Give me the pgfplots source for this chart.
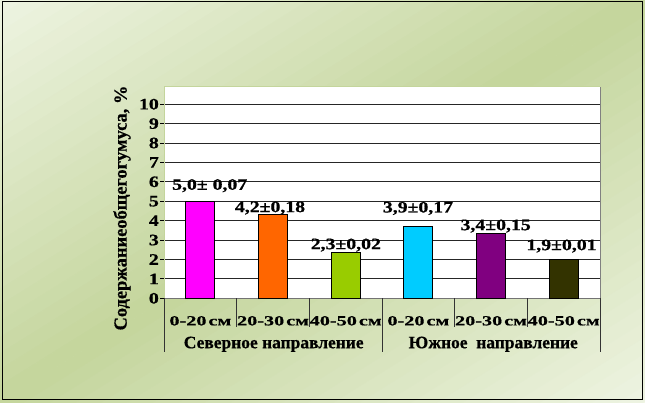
\documentclass[border=0pt]{standalone}
\usepackage{pgfplots}
\pgfplotsset{compat=1.18}
\usepackage{fontspec}
\setmainfont{Liberation Serif}
\newfontface\widebold[FakeStretch=1.24, FakeBold=0.7]{Liberation Serif Bold}
\newfontface\catbold[FakeStretch=1.45, FakeBold=0.7]{Liberation Serif Bold}
\newfontface\plainbold[FakeBold=0.6]{Liberation Serif Bold}
\definecolor{bgL}{HTML}{EEF4E2}
\definecolor{bgG}{HTML}{C4D59C}
\definecolor{c1}{HTML}{FF00FF}
\definecolor{c2}{HTML}{FF6600}
\definecolor{c3}{HTML}{99CC00}
\definecolor{c4}{HTML}{00CCFF}
\definecolor{c5}{HTML}{800080}
\definecolor{c6}{HTML}{333300}
\newcommand\tickfont{\widebold\fontsize{16}{16}\selectfont}
\newcommand\catfont{\catbold\fontsize{14}{14}\selectfont}
\newcommand\datafont{\widebold\fontsize{16}{16}\selectfont}
\newcommand\grpfont{\plainbold\fontsize{17.5}{17.5}\selectfont}
\begin{document}
\begin{tikzpicture}[x=1bp,y=1bp]
\path[use as bounding box] (0,0) rectangle (645,402);
\begin{scope}
\clip (0,0) rectangle (645,402);
\foreach \i in {0,...,49} {
  \pgfmathsetmacro\ca{-1+\i*0.04}
  \pgfmathsetmacro\cb{-1+(\i+1)*0.04}
  \pgfmathsetmacro\pp{abs((\ca+\cb)/2)*100}
  \fill[bgL!\pp!bgG, draw=bgL!\pp!bgG, line width=0.6bp]
    ({645*\ca-645},-402) -- ({645*\ca+1290},804) -- ({645*\cb+1290},804) -- ({645*\cb-645},-402) -- cycle;
}
\end{scope}
\draw[black, line width=1.4bp] (2.7,2.3) rectangle (642.3,400.2);
\begin{axis}[
  at={(164bp,103.7bp)}, anchor=south west,
  scale only axis, width=436bp, height=211.6bp,
  xmin=-0.5, xmax=5.5, ymin=0, ymax=10.9,
  ytick={0,...,10},
  xtick={0,...,5},
  xticklabels={0-20\hspace{2bp}см,20-30\hspace{2bp}см,40-50\hspace{2bp}см,0-20\hspace{2bp}см,20-30\hspace{2bp}см,40-50\hspace{2bp}см},
  ymajorgrids,
  grid style={black!85, line width=0.9bp},
  axis x line*=bottom, axis y line*=left,
  x axis line style={-, draw=black!55, line width=1.6bp},
  y axis line style={-, draw=bgG, line width=0.8bp},
  axis background/.style={fill=white},
  tick align=outside, major tick length=4bp,
  ytick style={black, line width=0.8bp},
  xtick style={draw=none},
  yticklabel style={font=\tickfont, inner sep=1bp},
  xticklabel style={font=\catfont, anchor=center, yshift=-18.5bp},
  /pgf/number format/assume math mode=true,
  ybar, bar width=29bp,
  every axis plot/.append style={bar shift=0pt, draw=black, line width=0.8bp},
  clip=false,
]
\addplot[fill=c1] coordinates {(0,5.0)};
\addplot[fill=c2] coordinates {(1,4.34)};
\addplot[fill=c3] coordinates {(2,2.37)};
\addplot[fill=c4] coordinates {(3,3.72)};
\addplot[fill=c5] coordinates {(4,3.36)};
\addplot[fill=c6] coordinates {(5,1.98)};
\draw[bgG, line width=0.8bp] (rel axis cs:0,1) -- (rel axis cs:1,1);
\draw[black!50, line width=0.8bp] (rel axis cs:1,0) -- (rel axis cs:1,1);
\pgfplotsinvokeforeach{0.5,1.5,3.5,4.5}{\draw[black!80, line width=0.8bp] (axis cs:#1,0) -- ([yshift=-29bp]axis cs:#1,0);}
\pgfplotsinvokeforeach{-0.5,2.5,5.5}{\draw[black!80, line width=0.8bp] (axis cs:#1,0) -- ([yshift=-54bp]axis cs:#1,0);}
\node[font=\datafont] at (axis cs:0.129,5.80) {5,0± 0,07};
\node[font=\datafont] at (axis cs:0.959,4.65) {4,2±0,18};
\node[font=\datafont] at (axis cs:2.002,2.74) {2,3±0,02};
\node[font=\datafont] at (axis cs:2.995,4.63) {3,9±0,17};
\node[font=\datafont] at (axis cs:4.064,3.72) {3,4±0,15};
\node[font=\datafont] at (axis cs:4.97,2.69) {1,9±0,01};
\node[font=\grpfont, anchor=center] at ([yshift=-46bp]axis cs:1.01,0) {Северное направление};
\node[font=\grpfont, anchor=center] at ([yshift=-46bp]axis cs:4.03,0) {Южное\ \ направление};
\end{axis}
\node[rotate=90, font=\plainbold\fontsize{18.5}{18.5}\selectfont] at (122,194) {Содержаниеобщегогумуса, \%};
\end{tikzpicture}
\end{document}
